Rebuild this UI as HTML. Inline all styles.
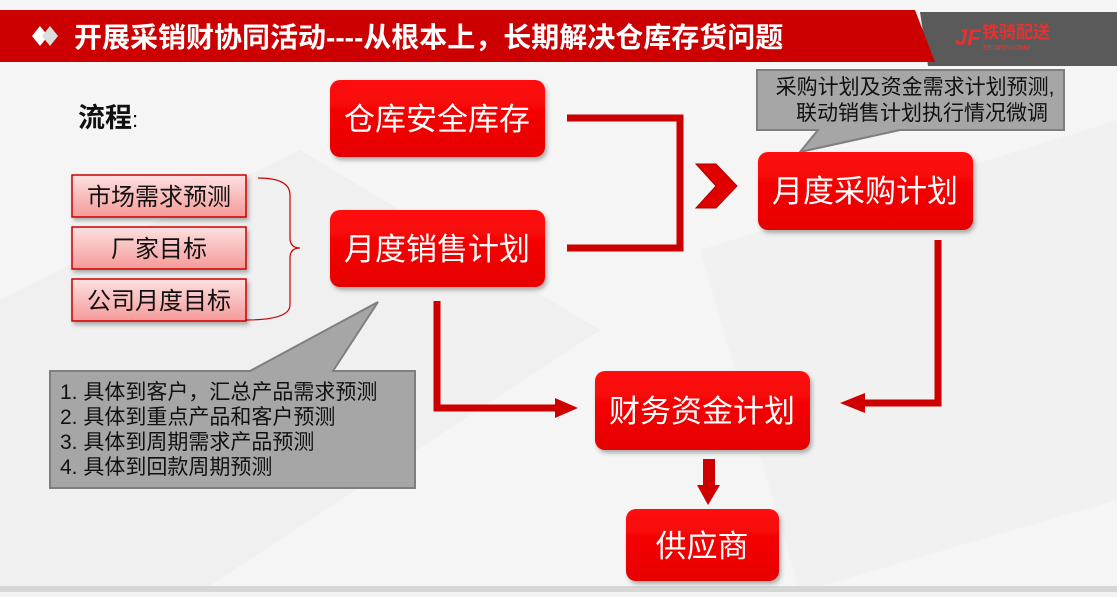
<!DOCTYPE html>
<html><head><meta charset="utf-8"><style>
html,body{margin:0;padding:0;}
body{width:1117px;height:592px;overflow:hidden;background:#f3f3f3;font-family:"Liberation Sans","Noto Sans CJK SC",sans-serif;}
svg text{font-family:"Liberation Sans","Noto Sans CJK SC",sans-serif;}
</style></head><body>
<svg width="1117" height="592" viewBox="0 0 1117 592">
<defs>
<linearGradient id="rg" x1="0" y1="0" x2="0" y2="1"><stop offset="0" stop-color="#ff0a0a"/><stop offset="1" stop-color="#e60000"/></linearGradient>
<linearGradient id="pk" x1="0" y1="0" x2="0" y2="1"><stop offset="0" stop-color="#fde0e0"/><stop offset="1" stop-color="#f59a9a"/></linearGradient>
<filter id="sh" x="-10%" y="-10%" width="130%" height="140%"><feDropShadow dx="2" dy="3" stdDeviation="2" flood-color="#000" flood-opacity="0.3"/></filter>
</defs>
<rect width="1117" height="592" fill="#f5f5f5"/>
<polygon points="0,300 300,150 600,330 200,592 0,592" fill="#f0f0f0"/>
<polygon points="700,250 1117,120 1117,500 800,592" fill="#f1f1f1"/>
<rect x="0" y="586" width="1117" height="6" fill="#d6d6d6"/>
<!-- header -->
<polygon points="920,12 1117,12 1117,66 928,66" fill="#5a5a5a"/>
<polygon points="0,10 915,10 935,62 0,62" fill="#cc0000"/>
<polygon points="32,36 40,26 48,36 40,46" fill="#fff"/>
<polygon points="42,36 50,26 58,36 50,46" fill="#ddd"/>
<text x="74" y="47" font-size="28" font-weight="bold" fill="#fff">开展采销财协同活动----从根本上，长期解决仓库存货问题</text>
<text x="955" y="45" font-size="22" font-weight="bold" fill="#e83030" font-style="italic">JF</text>
<text x="982" y="38" font-size="17" font-weight="bold" fill="#e83030">铁骑配送</text>
<text x="982" y="50" font-size="7" font-weight="bold" fill="#e83030" font-style="italic">TIEJIPEISONG</text>
<!-- 流程 -->
<text x="78" y="127" font-size="27" font-weight="bold" fill="#111">流程<tspan font-weight="normal" font-size="22">:</tspan></text>
<!-- small boxes -->
<g font-size="24" fill="#111" text-anchor="middle">
<rect x="72" y="175" width="174" height="42" fill="url(#pk)" stroke="#c00" stroke-width="1.5" filter="url(#sh)"/>
<text x="159" y="205">市场需求预测</text>
<rect x="72" y="227" width="174" height="42" fill="url(#pk)" stroke="#c00" stroke-width="1.5" filter="url(#sh)"/>
<text x="159" y="257">厂家目标</text>
<rect x="72" y="279" width="174" height="42" fill="url(#pk)" stroke="#c00" stroke-width="1.5" filter="url(#sh)"/>
<text x="159" y="309">公司月度目标</text>
</g>
<path d="M258,178 Q290,178 290,195 L290,238 Q290,248 300,248 Q290,248 290,258 L290,305 Q290,320 245,320" fill="none" stroke="#c00" stroke-width="1.2"/>
<!-- callouts -->
<polygon points="757,70 1064,70 1064,130 900,130 800,152 818,130 757,130" fill="#a6a6a6" stroke="#7f7f7f" stroke-width="2"/>
<text x="915" y="94" font-size="21" fill="#111" text-anchor="middle">采购计划及资金需求计划预测,</text>
<text x="922" y="120" font-size="21" fill="#111" text-anchor="middle">联动销售计划执行情况微调</text>
<polygon points="50,371 250,371 378,302 333,371 415,371 415,488 50,488" fill="#a6a6a6" stroke="#7f7f7f" stroke-width="2"/>
<g font-size="21" fill="#111">
<text x="60" y="399">1. 具体到客户，汇总产品需求预测</text>
<text x="60" y="424">2. 具体到重点产品和客户预测</text>
<text x="60" y="449">3. 具体到周期需求产品预测</text>
<text x="60" y="474">4. 具体到回款周期预测</text>
</g>
<!-- connectors -->
<g fill="none" stroke="#cc0000" stroke-width="7">
<polyline points="567,118 680,118 680,248 567,248"/>
<polyline points="938,240 938,403 865,403"/>
<polyline points="437,301 437,408 555,408"/>
</g>
<polygon points="555,398 578,408 555,418" fill="#d00000"/>
<polygon points="865,393 840,403 865,413" fill="#d00000"/>
<polygon points="697,485 720,485 708,505" fill="#d00000"/>
<rect x="703" y="459" width="12" height="28" fill="#d00000"/>
<polygon points="696,164 716,164 737,186 716,208 696,208 716,186" fill="#e00000" stroke="#a00" stroke-width="1"/>
<!-- main boxes -->
<g fill="url(#rg)" filter="url(#sh)">
<rect x="330" y="80" width="215" height="77" rx="10"/>
<rect x="330" y="210" width="215" height="77" rx="10"/>
<rect x="758" y="152" width="215" height="78" rx="10"/>
<rect x="595" y="371" width="215" height="79" rx="10"/>
<rect x="626" y="509" width="153" height="72" rx="10"/>
</g>
<g font-size="31" fill="#fff" text-anchor="middle">
<text x="437" y="130">仓库安全库存</text>
<text x="437" y="260">月度销售计划</text>
<text x="865" y="202">月度采购计划</text>
<text x="702" y="422">财务资金计划</text>
<text x="702" y="557">供应商</text>
</g>
</svg>
</body></html>
